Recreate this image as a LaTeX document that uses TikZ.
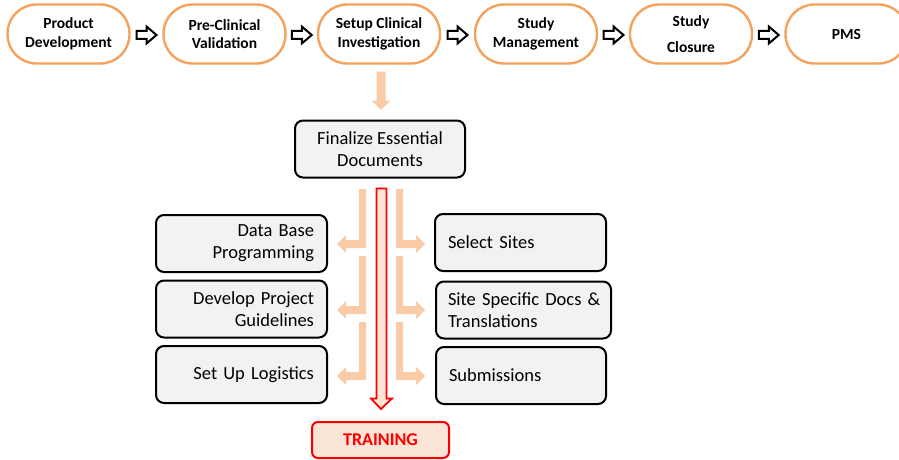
\documentclass[tikz,border=0pt]{standalone}
\usepackage{fontspec}
\setmainfont{Carlito}
\usetikzlibrary{calc}
\definecolor{pillor}{HTML}{F4A25C}
\definecolor{peach}{HTML}{F9CBA6}
\definecolor{trfill}{HTML}{FBE5D6}
\definecolor{boxfill}{HTML}{F2F2F2}
\definecolor{tred}{HTML}{FF0000}
\begin{document}
\begin{tikzpicture}[x=1pt,y=-1pt,
  pill/.style={draw=pillor, line width=2.4pt, fill=white, rounded corners=29pt,
    minimum width=122pt, minimum height=59pt, align=center, inner sep=0pt,
    font=\bfseries\fontsize{15.5}{18.5}\selectfont},
  blockarr/.style={draw=black, line width=2pt, fill=white, line join=miter},
  gbox/.style={draw=black, line width=2pt, fill=boxfill, rounded corners=8pt,
    minimum height=57pt, inner xsep=13pt, inner ysep=0pt,
    font=\fontsize{18.5}{22}\selectfont},
  lbox/.style={gbox, text width=145pt, align=right},
  rbox/.style={gbox, align=left, anchor=west},
  peachfill/.style={fill=peach, draw=none}
]
\useasboundingbox (0,0) rectangle (899,460);
\clip (0,0) rectangle (899,460);

% top process pills
\node[pill] (p1) at (68.5,34) {Product\\Development};
\node[pill] (p2) at (224.5,34) {Pre-Clinical\\Validation};
\node[pill] (p3) at (379,34) {Setup Clinical\\Investigation};
\node[pill] (p4) at (536,34) {Study\\Management};
\node[pill] (p5) at (691,34) {};
\node[font=\bfseries\fontsize{15.5}{18.5}\selectfont] (p5a) at (691,22) {Study};
\node[font=\bfseries\fontsize{15.5}{18.5}\selectfont] (p5b) at (691,47) {Closure};
\node[pill] (p6) at (846.5,34) {PMS};

% block arrows between pills
\foreach \a/\b in {p1/p2,p2/p3,p3/p4,p4/p5,p5/p6}{
  \draw[blockarr] ($(\a.east)!0.5!(\b.west)+(-10,1)$) coordinate (s)
    ($(s)+(0,-4)$) -- ($(s)+(10,-4)$) -- ($(s)+(10,-8.5)$) -- ($(s)+(20,0)$)
    -- ($(s)+(10,8.5)$) -- ($(s)+(10,4)$) -- ($(s)+(0,4)$) -- cycle;
}

% finalize box
\node[gbox, minimum width=170pt, align=center] (fin) at (380,149) {Finalize Essential\\Documents};

% small peach down arrow
\fill[peachfill] ($(p3.south)+(-2.5,7)$) coordinate (q)
  -- ($(q)+(9,0)$) -- ($(q)+(9,29)$) -- ($(q)+(14,29)$) -- ($(q)+(4.5,38)$)
  -- ($(q)+(-5,29)$) -- ($(q)+(0,29)$) -- cycle;

% left boxes
\node[lbox] (db) at (241.5,243.5) {Data Base\\Programming};
\node[lbox] (dg) at (241.5,309) {Develop Project\\Guidelines};
\node[lbox] (sl) at (241.5,374.5) {Set Up Logistics};

% right boxes
\node[rbox, minimum width=171pt, text width=145pt] (ss) at (434,242.5) {Select Sites};
\node[rbox, minimum width=175pt, text width=157pt, inner xsep=9pt] (sd) at (435,310) {\hspace*{3pt}Site Specific Docs \&\\\hspace*{3pt}Translations};
\node[rbox, minimum width=170pt, text width=144pt] (sub) at (435,375.5) {Submissions};

% peach bent arrows
\foreach \t/\c in {189/244,256/310,322/376}{
  \fill[peachfill] (359,\t) -- (366,\t) -- (366,{\c+4}) -- (346,{\c+4}) -- (346,{\c+9})
    -- (337,\c) -- (346,{\c-9}) -- (346,{\c-4}) -- (359,{\c-4}) -- cycle;
  \fill[peachfill] (403,\t) -- (396,\t) -- (396,{\c+4}) -- (416,{\c+4}) -- (416,{\c+9})
    -- (425,\c) -- (416,{\c-9}) -- (416,{\c-4}) -- (403,{\c-4}) -- cycle;
}

% training
\node[draw=tred, line width=2pt, fill=trfill, rounded corners=6pt,
  minimum width=137pt, minimum height=36pt, text=tred,
  font=\bfseries\fontsize{18}{20}\selectfont] (tr) at (380.5,440) {TRAINING};

% red outlined arrow from finalize to training
\draw[draw=tred, line width=1.8pt, fill=trfill, line join=miter]
  ($(fin.south)+(-3.5,10)$) coordinate (r)
  -- ($(r)+(10,0)$) -- ($(r)+(10,210)$) -- ($(r)+(15.5,210)$)
  -- ($(tr.north)+(0.5,-12)$) -- ($(r)+(-5.5,210)$) -- ($(r)+(0,210)$) -- cycle;
\end{tikzpicture}
\end{document}
